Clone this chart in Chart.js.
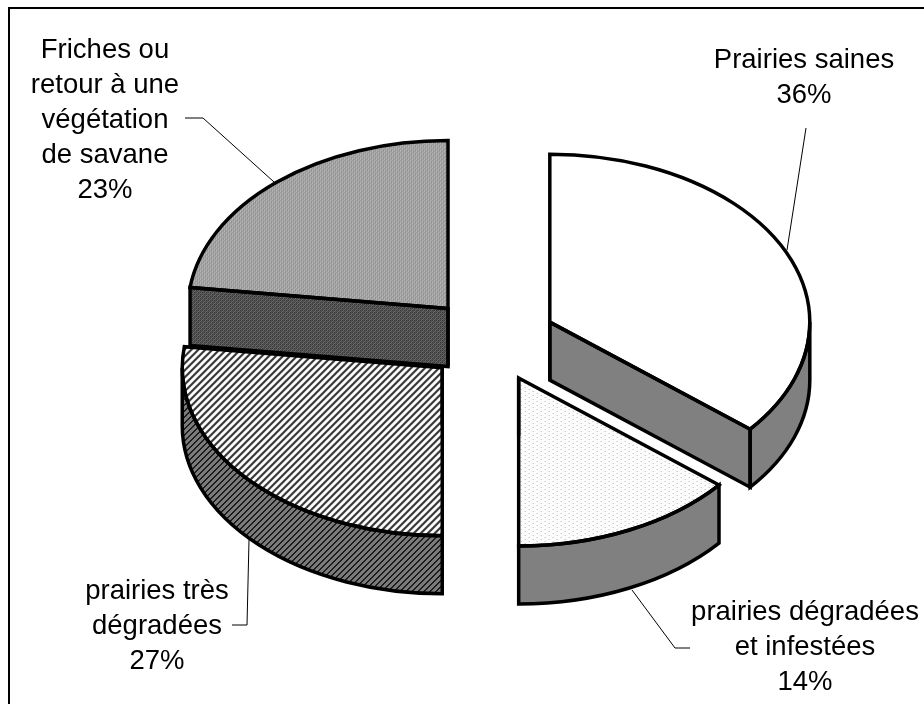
<!DOCTYPE html>
<html><head><meta charset="utf-8">
<style>html,body{margin:0;padding:0;background:#fff}canvas{display:block}</style>
<script src="https://cdn.jsdelivr.net/npm/chart.js@4"></script>
</head><body><canvas id="c" width="924" height="704"></canvas>
<script>
const categories = ["Prairies saines","prairies dégradées et infestées","prairies très dégradées","Friches ou retour à une végétation de savane"];
const values = [36,14,27,23];
const labelLines = [["Prairies saines"],["prairies dégradées","et infestées"],["prairies très","dégradées"],["Friches ou","retour à une","végétation","de savane"]];
const labelAnchors = [[804,60],[805,612],[157,591],[105,50]];
const leaders = [[[806,128],[787,250]],[[690,648],[675,648],[632,590]],[[232,625],[247,625],[249,540]],[[185,118],[203,118],[274,182]]];
const TILT = 0.646, DEPTH = 58, EXPLODE = 65, RADIUS = 260, LINE_H = 35;

function tile(n, colorAt){
  const c = document.createElement('canvas'); c.width = c.height = n;
  const g = c.getContext('2d');
  for(let y=0;y<n;y++)for(let x=0;x<n;x++){g.fillStyle=colorAt(x,y);g.fillRect(x,y,1,1);}
  return document.createElement('canvas').getContext('2d').createPattern(c,'repeat');
}
const topFills = [
  '#ffffff',
  tile(8,(x,y)=>((x%8===1&&y%4===1)||(x%8===5&&y%4===3))?'#b4b4b4':(((x+y)%4===0)?'#f6f6f6':'#ffffff')),
  tile(7,(x,y)=>((x+y)%7<3)?'#333333':'#ffffff'),
  tile(4,(x,y)=>(x%2===0&&y%2===0)?'#7c7c7c':((x+y)%4===1?'#c4c4c4':'#a6a6a6'))
];
const wallFills = [
  '#808080','#808080',
  tile(6,(x,y)=>((x+y)%6<2)?'#1c1c1c':'#7a7a7a'),
  tile(4,(x,y)=>(x%2===0&&y%2===0)?'#3a3a3a':((x+y)%4===1?'#6a6a6a':'#505050'))
];

const tiltOffset = cy => cy*(1-TILT);
// The arc element widens offset slices by offset*(1-sin(circumference)).
const arcGrowth = a => ((a.options.offset||0)/4)*(1-Math.sin(Math.min(Math.PI,a.circumference||0)));
function geom(arc){
  const p = arc.getProps(['x','y','startAngle','endAngle','outerRadius'],true);
  const mid = (p.startAngle+p.endAngle)/2;
  const off = (arc.options.offset||0)/4;
  return {cx:p.x+Math.cos(mid)*off, cy:p.y*TILT+tiltOffset(p.y)+Math.sin(mid)*off*TILT,
          s:p.startAngle, e:p.endAngle, r:p.outerRadius+arcGrowth(arc)};
}
function wallPaths(ctx,g,i,doStroke){
  const ry=g.r*TILT;
  const a=Math.max(g.s,0), b=Math.min(g.e,Math.PI);
  const pt=t=>[g.cx+g.r*Math.cos(t), g.cy+ry*Math.sin(t)];
  const side=(t)=>{
    const q=pt(t);
    ctx.beginPath();ctx.moveTo(g.cx,g.cy);ctx.lineTo(q[0],q[1]);ctx.lineTo(q[0],q[1]+DEPTH);ctx.lineTo(g.cx,g.cy+DEPTH);ctx.closePath();
    if(doStroke)ctx.stroke();else{ctx.fillStyle=wallFills[i];ctx.fill();}
  };
  if(Math.cos(g.e)>1e-6) side(g.e);
  if(Math.cos(g.s)<-1e-6) side(g.s);
  if(b>a){
    ctx.beginPath();ctx.ellipse(g.cx,g.cy,g.r,ry,0,a,b);
    ctx.ellipse(g.cx,g.cy+DEPTH,g.r,ry,0,b,a,true);ctx.closePath();
    if(doStroke)ctx.stroke();else{ctx.fillStyle=wallFills[i];ctx.fill();}
  }
  if(doStroke && (Math.abs(Math.cos(g.s))<1e-6||Math.abs(Math.cos(g.e))<1e-6)){
    ctx.beginPath();ctx.moveTo(g.cx,g.cy);ctx.lineTo(g.cx,g.cy+DEPTH);ctx.stroke();
  }
}
const pseudo3d = {
  id:'pseudo3d',
  afterDatasetUpdate(chart,args){
    args.meta.data.forEach(a=>{ a.outerRadius-=arcGrowth(a); });
  },
  beforeDraw(chart){
    const ctx=chart.ctx;
    ctx.save();ctx.strokeStyle='#000';ctx.lineWidth=2;
    ctx.beginPath();ctx.moveTo(9,704);ctx.lineTo(9,8);ctx.lineTo(924,8);ctx.stroke();ctx.restore();
  },
  beforeDatasetDraw(chart,args){
    const ctx=chart.ctx, arcs=args.meta.data;
    const f=tiltOffset(arcs[0].y);
    arcs.forEach((a,i)=>wallPaths(ctx,geom(a),i,false));
    topFills.forEach(p=>{ if(p.setTransform) p.setTransform(new DOMMatrix([1,0,0,1/TILT,0,-f/TILT])); });
    ctx.save();
    ctx.setTransform(1,0,0,TILT,0,f);
  },
  afterDatasetDraw(chart,args){
    const ctx=chart.ctx;
    ctx.restore();
    ctx.save();ctx.strokeStyle='#000';ctx.lineWidth=3.5;ctx.lineJoin='miter';ctx.miterLimit=4;
    args.meta.data.forEach((a,i)=>{
      const g=geom(a);
      wallPaths(ctx,g,i,true);
      ctx.beginPath();ctx.moveTo(g.cx,g.cy);ctx.ellipse(g.cx,g.cy,g.r,g.r*TILT,0,g.s,g.e);ctx.closePath();ctx.stroke();
    });
    ctx.restore();
  },
  afterDraw(chart){
    const ctx=chart.ctx;
    ctx.save();ctx.strokeStyle='#000';ctx.lineWidth=1;
    leaders.forEach(l=>{ctx.beginPath();l.forEach((q,i)=>i?ctx.lineTo(q[0],q[1]):ctx.moveTo(q[0],q[1]));ctx.stroke();});
    ctx.fillStyle='#000';ctx.font='27.5px "Liberation Sans"';ctx.textAlign='center';ctx.textBaseline='middle';
    labelLines.forEach((lines,i)=>{
      const [x,y]=labelAnchors[i];
      lines.concat([values[i]+'%']).forEach((t,j)=>ctx.fillText(t,x,y+j*LINE_H));
    });
    ctx.restore();
  }
};
new Chart(document.getElementById('c'),{
  type:'pie',
  data:{labels:categories,datasets:[{data:values,backgroundColor:topFills,borderWidth:0,offset:EXPLODE*4,hoverOffset:0,clip:false}]},
  options:{responsive:false,animation:false,radius:RADIUS,
    layout:{padding:{left:58,bottom:24}},
    plugins:{legend:{display:false},tooltip:{enabled:false}}},
  plugins:[pseudo3d]
});
</script></body></html>
